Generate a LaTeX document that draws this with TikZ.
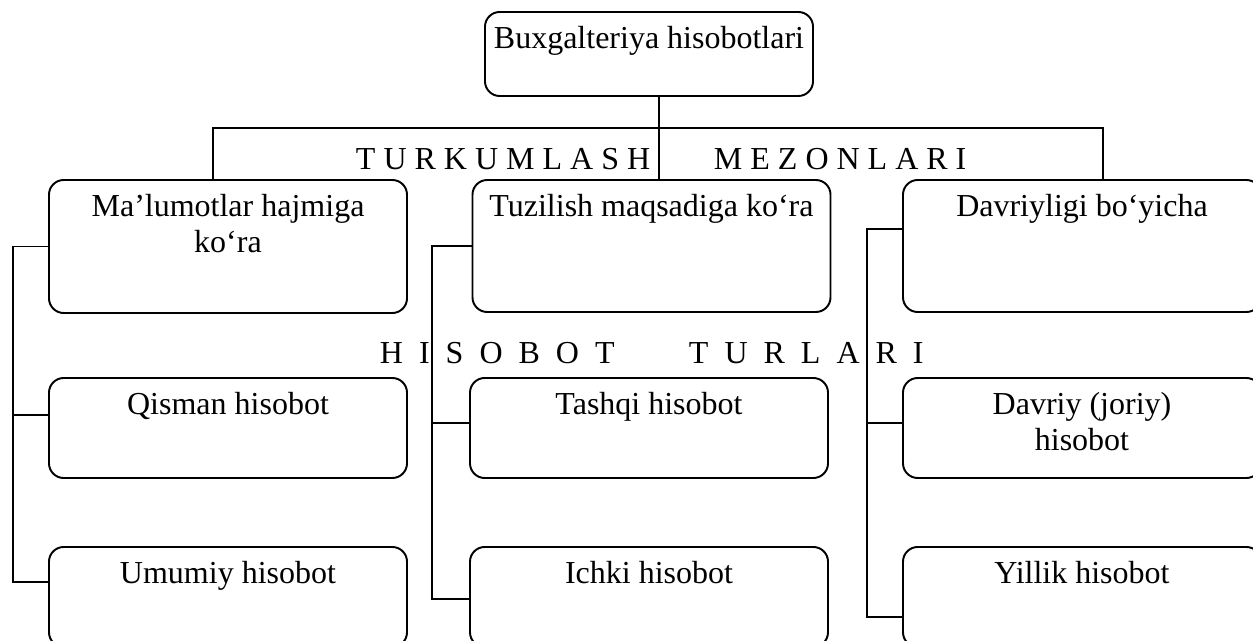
\documentclass[tikz,border=0pt]{standalone}
\usepackage{fontspec}
\setmainfont{Liberation Serif}

\begin{document}
\begin{tikzpicture}[x=0.75pt, y=-0.75pt, line width=1.45pt,
    box/.style={draw, rounded corners=11pt, inner sep=0pt, minimum width=268.5pt, minimum height=75pt},
    txt/.style={anchor=north, inner sep=0pt, align=center, font=\fontsize{24}{27}\selectfont, yshift=-11pt},
    spaced/.style={anchor=base west, inner sep=0pt, font=\fontsize{24}{27}\selectfont}]
    \useasboundingbox (0,0) rectangle (1253,641);
    % bosh tugun
    \node[box, minimum width=246pt, minimum height=63pt, label={[txt]north:Buxgalteriya hisobotlari}] (bh) at (649,54) {};
    % mezonlar
    \node[box, minimum height=99.75pt, label={[txt]north:Ma’lumotlar hajmiga\\ko‘ra}] (m1) at (228,246.5) {};
    \node[box, minimum height=99pt, label={[txt]north:Tuzilish maqsadiga ko‘ra}] (m2) at (651.5,246) {};
    \node[box, minimum height=99pt, label={[txt]north:Davriyligi bo‘yicha}] (m3) at (1082,246) {};
    % turlar
    \node[box, label={[txt]north:Qisman hisobot}] (t11) at (228,428) {};
    \node[box, label={[txt]north:Umumiy hisobot}] (t12) at (228,597) {};
    \node[box, label={[txt]north:Tashqi hisobot}] (t21) at (649,428) {};
    \node[box, label={[txt]north:Ichki hisobot}] (t22) at (649,597) {};
    \node[box, label={[txt]north:Davriy (joriy)\\hisobot}] (t31) at (1082,428) {};
    \node[box, label={[txt]north:Yillik hisobot}] (t32) at (1082,597) {};
    % sarlavhalar
    \node[spaced] (tk) at (355,170) {T U R K U M L A S H};
    \node[spaced] (mz) at (713,170) {M E Z O N L A R I};
    \node[spaced] (hs) at (379,364) {H~~I~~S~~O~~B~~O~~T};
    \node[spaced] (tr) at (688,364) {T~~U~~R~~L~~A~~R~~I};
    % shina
    \coordinate (jl) at (213,128);
    \coordinate (jm) at (659,128);
    \coordinate (jr) at (1103,128);
    \draw (jm |- bh.south) -- (jm |- m2.north);
    \draw (jl |- m1.north) -- (jl) -- (jr) -- (jr |- m3.north);
    % chap ustun
    \coordinate (lb) at (13,582);
    \draw (m1.west) -| (lb) -- (lb -| t12.west);
    \draw (lb |- 0,415) -- (t11.west |- 0,415);
    % o'rta ustun
    \coordinate (mb) at (432,599);
    \draw (m2.west) -| (mb) -- (mb -| t22.west);
    \draw (mb |- 0,423) -- (t21.west |- 0,423);
    % o'ng ustun
    \coordinate (rb) at (867,617);
    \draw (m3.west |- 0,229) -| (rb) -- (rb -| t32.west);
    \draw (rb |- 0,423) -- (t31.west |- 0,423);
\end{tikzpicture}
\end{document}
